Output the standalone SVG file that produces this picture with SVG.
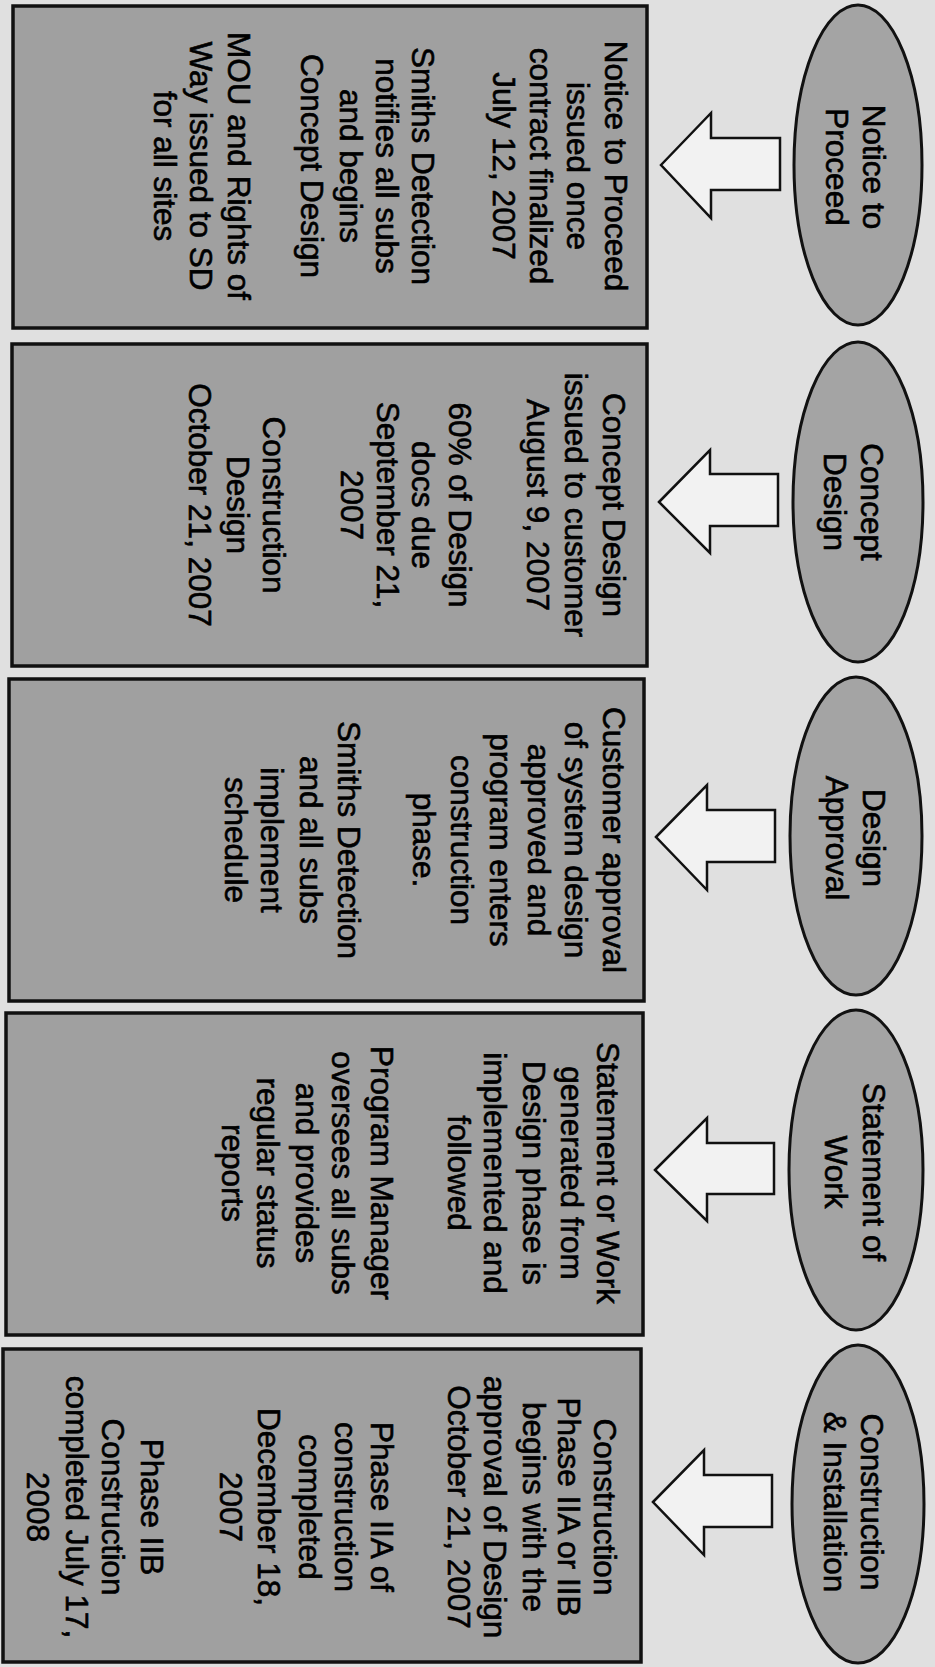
<svg xmlns="http://www.w3.org/2000/svg" width="935" height="1667" viewBox="0 0 935 1667">
<style>
.bg{fill:#e0e0e0}
.box{fill:#a0a0a0;stroke:#111;stroke-width:3.5}
.ell{fill:#a4a4a4;stroke:#111;stroke-width:3}
.arrow{fill:#f2f2f2;stroke:#111;stroke-width:2.5;stroke-linejoin:miter}
.t{font-family:"Liberation Sans",Arial,sans-serif;font-size:31.5px;fill:#000;stroke:#000;stroke-width:0.6;text-anchor:middle;dominant-baseline:central}
</style>
<rect class="bg" x="0" y="0" width="935" height="1667"/>

<g id="connectors">
<path class="arrow" d="M661,165 L711,113 L711,138 L780,138 L780,190 L711,190 L711,218 Z"/>
<path class="arrow" d="M659,502 L710,450 L710,474 L778,474 L778,526 L710,526 L710,553 Z"/>
<path class="arrow" d="M656,837 L707,785 L707,810 L775,810 L775,862 L707,862 L707,890 Z"/>
<path class="arrow" d="M655,1170 L707,1118 L707,1143 L774,1143 L774,1194 L707,1194 L707,1221 Z"/>
<path class="arrow" d="M653,1502 L704,1450 L704,1475 L772,1475 L772,1527 L704,1527 L704,1555 Z"/>
</g>

<g id="node-notice">
<ellipse class="ell" cx="858" cy="165" rx="64" ry="160"/>
<text class="t" transform="translate(874,167) rotate(90)"><tspan x="0" y="0">Notice to</tspan><tspan x="0" y="37">Proceed</tspan></text>
</g>
<g id="node-concept">
<ellipse class="ell" cx="858" cy="502" rx="65" ry="160"/>
<text class="t" transform="translate(872,502) rotate(90)"><tspan x="0" y="0">Concept</tspan><tspan x="0" y="37">Design</tspan></text>
</g>
<g id="node-approval">
<ellipse class="ell" cx="856" cy="836" rx="66" ry="159"/>
<text class="t" transform="translate(874,838) rotate(90)"><tspan x="0" y="0">Design</tspan><tspan x="0" y="37">Approval</tspan></text>
</g>
<g id="node-sow">
<ellipse class="ell" cx="856" cy="1170" rx="67" ry="160"/>
<text class="t" transform="translate(874,1172) rotate(90)"><tspan x="0" y="0">Statement of</tspan><tspan x="0" y="38">Work</tspan></text>
</g>
<g id="node-construction">
<ellipse class="ell" cx="858" cy="1504" rx="66" ry="159"/>
<text class="t" transform="translate(872,1502) rotate(90)"><tspan x="0" y="0">Construction</tspan><tspan x="0" y="37">&amp; Installation</tspan></text>
</g>

<g id="box-notice">
<rect class="box" x="13" y="6" width="634" height="322"/>
<text class="t" transform="translate(616,166) rotate(90)"><tspan x="0" y="0">Notice to Proceed</tspan><tspan x="0" y="38">issued once</tspan><tspan x="0" y="75">contract finalized</tspan><tspan x="0" y="112">July 12, 2007</tspan><tspan x="0" y="193">Smiths Detection</tspan><tspan x="0" y="229">notifies all subs</tspan><tspan x="0" y="265">and begins</tspan><tspan x="0" y="304">Concept Design</tspan><tspan x="0" y="377">MOU and Rights of</tspan><tspan x="0" y="415">Way issued to SD</tspan><tspan x="0" y="451">for all sites</tspan></text>
</g>
<g id="box-concept">
<rect class="box" x="12" y="344" width="635" height="322"/>
<text class="t" transform="translate(614,505) rotate(90)"><tspan x="0" y="0">Concept Design</tspan><tspan x="0" y="38">issued to customer</tspan><tspan x="0" y="76">August 9, 2007</tspan><tspan x="0" y="154">60% of Design</tspan><tspan x="0" y="191">docs due</tspan><tspan x="0" y="226">September 21,</tspan><tspan x="0" y="262">2007</tspan><tspan x="0" y="340">Construction</tspan><tspan x="0" y="376">Design</tspan><tspan x="0" y="414">October 21, 2007</tspan></text>
</g>
<g id="box-approval">
<rect class="box" x="9" y="679" width="635" height="322"/>
<text class="t" transform="translate(614,840) rotate(90)"><tspan x="0" y="0">Customer approval</tspan><tspan x="0" y="38">of system design</tspan><tspan x="0" y="75">approved and</tspan><tspan x="0" y="113">program enters</tspan><tspan x="0" y="152">construction</tspan><tspan x="0" y="190">phase.</tspan><tspan x="0" y="265">Smiths Detection</tspan><tspan x="0" y="303">and all subs</tspan><tspan x="0" y="342">implement</tspan><tspan x="0" y="378">schedule</tspan></text>
</g>
<g id="box-sow">
<rect class="box" x="6" y="1013" width="637" height="322"/>
<text class="t" transform="translate(608,1173) rotate(90)"><tspan x="0" y="0">Statement or Work</tspan><tspan x="0" y="36">generated from</tspan><tspan x="0" y="74">Design phase is</tspan><tspan x="0" y="113">implemented and</tspan><tspan x="0" y="149">followed</tspan><tspan x="0" y="226">Program Manager</tspan><tspan x="0" y="265">oversees all subs</tspan><tspan x="0" y="301">and provides</tspan><tspan x="0" y="340">regular status</tspan><tspan x="0" y="375">reports</tspan></text>
</g>
<g id="box-construction">
<rect class="box" x="3" y="1349" width="638" height="313"/>
<text class="t" transform="translate(605,1507) rotate(90)"><tspan x="0" y="0">Construction</tspan><tspan x="0" y="36">Phase IIA or IIB</tspan><tspan x="0" y="71">begins with the</tspan><tspan x="0" y="110">approval of Design</tspan><tspan x="0" y="146">October 21, 2007</tspan><tspan x="0" y="223">Phase IIA of</tspan><tspan x="0" y="259">construction</tspan><tspan x="0" y="295">completed</tspan><tspan x="0" y="336">December 18,</tspan><tspan x="0" y="374">2007</tspan><tspan x="0" y="453">Phase IIB</tspan><tspan x="0" y="492">Construction</tspan><tspan x="0" y="528">completed July 17,</tspan><tspan x="0" y="567">2008</tspan></text>
</g>
</svg>
